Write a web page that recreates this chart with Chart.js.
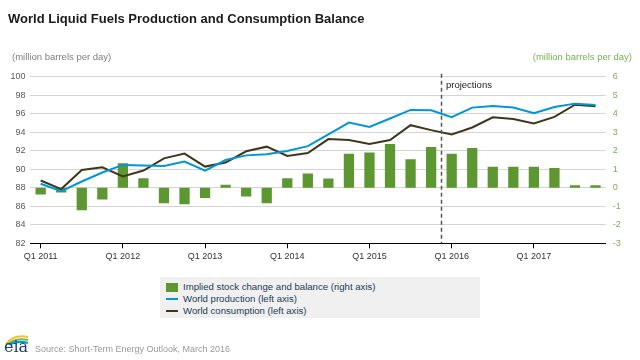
<!DOCTYPE html>
<html>
<head>
<meta charset="utf-8">
<script src="https://cdn.jsdelivr.net/npm/chart.js@4/dist/chart.umd.min.js"></script>
<style>
  html, body { margin: 0; padding: 0; background: #fff; }
  #wrap { position: relative; width: 640px; height: 360px; overflow: hidden; font-family: "Liberation Sans", Arial, sans-serif; }
  #c { position: absolute; left: 0; top: 0; }
  .t { position: absolute; white-space: nowrap; }
  #title { left: 8px; top: 11px; font-size: 13px; line-height: 15px; font-weight: bold; color: #1a1a1a; }
  #unitL { left: 12px; top: 51px; font-size: 9.5px; line-height: 12px; color: #7f7f7f; }
  #unitR { right: 8px; top: 51px; font-size: 9.5px; line-height: 12px; color: #78b050; }
  #proj { left: 446px; top: 79px; font-size: 9.5px; line-height: 12px; color: #222; }
  #legend { position: absolute; left: 160px; top: 277px; width: 320px; height: 41px; background: #f0f0f0; }
  .li { position: absolute; left: 23px; font-size: 9.6px; color: #243b53; line-height: 12px; }
  .sw { position: absolute; left: 6px; }
  #source { left: 35px; top: 343px; font-size: 9px; line-height: 12px; color: #9a9a9a; }
  #eia { left: 4px; top: 339px; font-family: "DejaVu Serif", "Liberation Serif", serif; font-size: 16px; color: #1f3d6b; line-height: 16px; }
</style>
</head>
<body>
<div id="wrap">
  <canvas id="c" width="640" height="360"></canvas>
  <div id="title" class="t">World Liquid Fuels Production and Consumption Balance</div>
  <div id="unitL" class="t">(million barrels per day)</div>
  <div id="unitR" class="t">(million barrels per day)</div>
  <div id="proj" class="t">projections</div>
  <div id="legend">
    <div class="sw" style="top:6px;width:12px;height:9px;background:#5d9732;"></div>
    <div class="li" style="top:4px;">Implied stock change and balance (right axis)</div>
    <div class="sw" style="top:21px;width:12px;height:2px;background:#0096d7;"></div>
    <div class="li" style="top:16px;">World production (left axis)</div>
    <div class="sw" style="top:33px;width:12px;height:2px;background:#40371a;"></div>
    <div class="li" style="top:28px;">World consumption (left axis)</div>
  </div>
  <svg style="position:absolute;left:4px;top:333px;" width="26" height="12" viewBox="0 0 26 12">
    <path d="M2 11 Q10 1 24 4" stroke="#f2c12e" stroke-width="2" fill="none"/>
    <path d="M3 12 Q11 4 24 7" stroke="#7ab648" stroke-width="2" fill="none"/>
    <path d="M5 12 Q12 7 24 10" stroke="#0096d7" stroke-width="2" fill="none"/>
  </svg>
  <div id="eia" class="t">eia</div>
  <div id="source" class="t">Source: Short-Term Energy Outlook, March 2016</div>
</div>
<script>
const quarters = [
  "Q1 2011","Q2 2011","Q3 2011","Q4 2011",
  "Q1 2012","Q2 2012","Q3 2012","Q4 2012",
  "Q1 2013","Q2 2013","Q3 2013","Q4 2013",
  "Q1 2014","Q2 2014","Q3 2014","Q4 2014",
  "Q1 2015","Q2 2015","Q3 2015","Q4 2015",
  "Q1 2016","Q2 2016","Q3 2016","Q4 2016",
  "Q1 2017","Q2 2017","Q3 2017","Q4 2017"
];
const production = [88.43, 87.64, 88.68, 89.65, 90.47, 90.40, 90.36, 90.83, 89.86, 91.00, 91.50, 91.61, 91.97, 92.50, 93.76, 95.05, 94.58, 95.48, 96.41, 96.37, 95.62, 96.66, 96.84, 96.66, 96.05, 96.73, 97.09, 96.94];
const consumption = [88.79, 87.86, 89.93, 90.22, 89.22, 89.86, 91.18, 91.69, 90.29, 90.72, 91.94, 92.44, 91.43, 91.76, 93.26, 93.15, 92.72, 93.15, 94.76, 94.23, 93.76, 94.51, 95.62, 95.44, 94.94, 95.66, 96.98, 96.80];
const stockChange = [-0.37, -0.25, -1.22, -0.63, 1.32, 0.52, -0.84, -0.89, -0.55, 0.16, -0.47, -0.84, 0.52, 0.77, 0.50, 1.84, 1.90, 2.36, 1.54, 2.20, 1.84, 2.15, 1.13, 1.13, 1.13, 1.07, 0.14, 0.14];
const leftTicks = { min: 82, max: 100, step: 2 };
const rightTicks = { min: -3, max: 6, step: 1 };
const lastHistoricalIndex = 19;

Chart.defaults.font.family = '"Liberation Sans", Arial, sans-serif';
Chart.defaults.font.size = 9;

const projectionLine = {
  id: 'projectionLine',
  afterDatasetsDraw(chart) {
    const xs = chart.scales.x;
    const ca = chart.chartArea;
    const x = Math.round((xs.getPixelForValue(lastHistoricalIndex) + xs.getPixelForValue(lastHistoricalIndex + 1)) / 2) + 0.5;
    const ctx = chart.ctx;
    ctx.save();
    ctx.strokeStyle = '#555';
    ctx.lineWidth = 1.5;
    ctx.setLineDash([4, 3]);
    ctx.beginPath();
    ctx.moveTo(x, ca.top - 3);
    ctx.lineTo(x, ca.bottom);
    ctx.stroke();
    ctx.restore();
  }
};

new Chart(document.getElementById('c'), {
  type: 'bar',
  data: {
    labels: quarters,
    datasets: [
      {
        type: 'line', label: 'World production (left axis)', data: production, yAxisID: 'y',
        borderColor: '#0096d7', borderWidth: 2, pointRadius: 0, tension: 0, fill: false, order: 1
      },
      {
        type: 'line', label: 'World consumption (left axis)', data: consumption, yAxisID: 'y',
        borderColor: '#40371a', borderWidth: 2, pointRadius: 0, tension: 0, fill: false, order: 2
      },
      {
        type: 'bar', label: 'Implied stock change and balance (right axis)', data: stockChange, yAxisID: 'y1',
        backgroundColor: '#5d9732', borderWidth: 0, categoryPercentage: 1, barPercentage: 0.5, order: 3
      }
    ]
  },
  options: {
    responsive: false,
    animation: false,
    devicePixelRatio: 1,
    layout: { padding: { top: 76.7, left: 0, right: 0, bottom: 0 } },
    plugins: { legend: { display: false }, title: { display: false }, tooltip: { enabled: false } },
    scales: {
      x: {
        offset: true,
        grid: {
          offset: false, drawOnChartArea: false, drawTicks: true, tickLength: 5,
          color: (ctx) => (ctx.index % 4 === 0 ? '#000' : 'rgba(0,0,0,0)'), lineWidth: 1
        },
        border: { display: true, color: '#000', width: 1 },
        ticks: {
          autoSkip: false, maxRotation: 0, minRotation: 0, padding: 3, color: '#333',
          callback: function (v, i) { return i % 4 === 0 ? quarters[i] : ''; }
        },
        afterFit(scale) { scale.height = 360 - 243.3; }
      },
      y: {
        position: 'left', min: leftTicks.min, max: leftTicks.max,
        ticks: { stepSize: leftTicks.step, color: '#595959', padding: 5 },
        grid: { color: '#d4d4d4', lineWidth: 1, drawTicks: false },
        border: { display: false },
        afterFit(scale) { scale.width = 30.4; }
      },
      y1: {
        position: 'right', min: rightTicks.min, max: rightTicks.max,
        ticks: { stepSize: rightTicks.step, color: '#78b050', padding: 7 },
        grid: { display: false, drawTicks: false },
        border: { display: false },
        afterFit(scale) { scale.width = 640 - 605.8; }
      }
    }
  },
  plugins: [projectionLine]
});
</script>
</body>
</html>
